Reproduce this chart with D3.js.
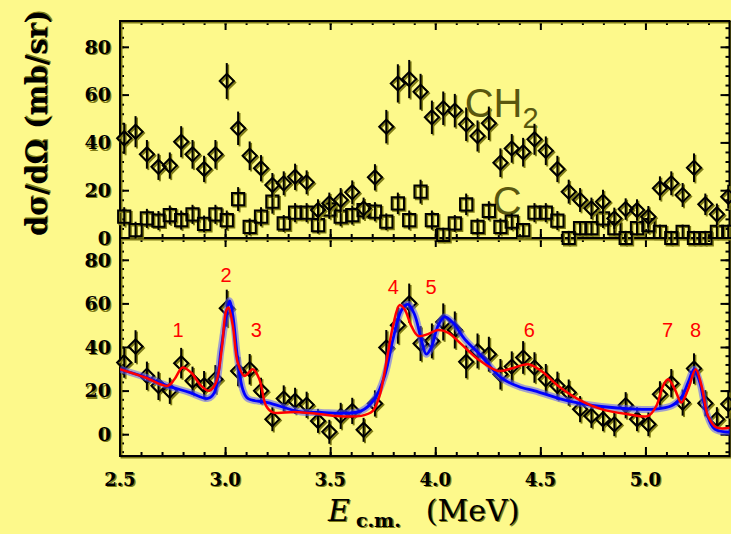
<!DOCTYPE html>
<html>
<head>
<meta charset="utf-8">
<script src="https://cdn.jsdelivr.net/npm/d3@7"></script>
<style>
body { margin:0; background:#fdf98b; }
svg { display:block; }
</style>
</head>
<body>
<script>
// energy bins (MeV, c.m.)
var energy = [2.520,2.574,2.628,2.683,2.737,2.791,2.845,2.900,2.954,3.008,3.062,3.117,3.171,3.225,3.279,3.333,3.388,3.442,
              3.496,3.550,3.605,3.659,3.713,3.767,3.822,3.876,3.930,3.984,4.038,4.093,4.147,4.201,4.255,4.310,4.364,4.418,
              4.472,4.526,4.581,4.635,4.689,4.743,4.798,4.852,4.906,4.960,5.014,5.069,5.123,5.177,5.231,5.285,5.340,5.394];

// top panel: CH2 target (diamonds) and C target (squares)
var ch2 = [41.7,44.5,35,29.8,30.3,40.3,35,28.9,35,65.7,45.9,34.4,29.2,22.2,22.9,25.6,23.3,11.7,
           14.5,15.9,19.1,12.4,25.4,46.6,64.7,66.5,61.2,50.5,54.3,53.3,47.6,42.7,48,31.5,37.5,35.9,
           41.3,36.5,28.9,19.4,15.9,12.4,15.2,8.2,12.1,11.7,8.9,20.8,22.9,18,29.4,14.1,9.9,17.3];
var ch2Err = [6.5,6.5,6,5.5,5.5,6.5,6,5.5,6,7.5,7,6,5.5,5,5,5.5,5,4.5,
              4.5,5,5,4.5,5.5,7,8,8,7.5,7,7,7,7,6.5,7,6,6,6,
              6.5,6,5.5,5,5,4.5,5,4.5,4.5,4.5,4.5,5,5,5,6,4.5,4.5,5];
var carbon = [8.9,3.3,8.2,7.3,9.6,7.5,9.9,5.9,9.9,7.5,16.3,4.7,8.9,15.2,6.1,10.6,10.6,5.4,
              12,8.9,9.6,11.7,11,6.8,14.5,7.5,19.4,7.5,1.3,6.1,14.1,4.7,11.4,4.7,6.8,3.3,
              10.6,10.6,7.3,0,4.1,4.1,8.2,4.1,0,4.1,5.4,2.6,0,2.6,0,0,2.6,2.6];
var carbonErr = [4,3.5,4,4,4,4,4,3.5,4,4,5,3.5,4,5,3.5,4,4,3.5,
                 4,4,4,4,4,3.5,4.5,4,5,4,3,3.5,4.5,3.5,4,3.5,3.5,3,
                 4,4,4,3,3,3,4,3,3,3,3.5,3,3,3,3,3,3,3];

// bottom panel: net cross section
var net = [32.9,40.2,26.8,22.2,19.9,32.6,24.5,22.5,25.2,57.8,29,29.8,19.9,6.9,16.4,15.3,13.5,6.1,
           1.1,8.4,10.7,2,14.1,39.8,50,60.1,41.6,42.8,51.5,47.8,33.2,38.2,36.7,27.5,31,35.2,
           30.6,25.2,22.2,19.1,11.5,8.4,6.9,4.6,13.3,6.9,4.6,18.3,23.4,14.5,30.1,14.2,6.9,13.8];
var netErr = [7,7.5,6.5,6.5,6,7,6.5,6.5,6.5,8.5,7,7,6,5.5,6,6,6,5.5,
              5.5,6,6,5.5,6,8,8.5,9,8,8,8.5,8.5,7.5,8,8,7,7,7.5,
              7,7,6.5,6,6,5.5,5.5,5.5,6,5.5,5.5,6,6.5,6,7,6,5.5,6];

// fit curves (blue, red)
var blueE = [2.50,2.62,2.727,2.83,2.918,2.949,2.981,3.005,3.021,3.037,3.06,3.084,3.108,3.203,3.362,3.457,3.552,3.648,
             3.711,3.759,3.799,3.838,3.87,3.901,3.933,3.957,3.981,4.013,4.044,4.084,4.14,4.219,4.314,4.41,4.473,
             4.632,4.79,4.949,5.044,5.124,5.171,5.203,5.232,5.259,5.29,5.33,5.41];
var blueY = [29.8,26.2,22.2,19.2,16.4,19.1,39,54.3,61.2,54.3,34.4,20.6,16.4,14.5,10.2,10,9.6,10.7,
             16.1,26.7,43.6,56.6,59.6,55,43.6,36.7,39.8,49.7,53.8,51.2,43.6,35.9,25.8,21.4,19.9,
             15.3,12.7,11.5,11.5,13,16.8,23.7,29.8,23.7,10,2.3,1];
var redE = [2.50,2.62,2.727,2.759,2.798,2.838,2.886,2.925,2.957,2.984,3.005,3.016,3.037,3.06,3.092,3.132,3.163,3.195,
            3.227,3.33,3.457,3.52,3.648,3.703,3.735,3.767,3.799,3.83,3.854,3.886,3.918,3.965,4.013,4.06,4.124,
            4.203,4.299,4.362,4.441,4.505,4.584,4.679,4.79,4.917,5.013,5.052,5.084,5.108,5.14,5.171,5.203,5.239,
            5.267,5.298,5.338,5.41];
var redY = [29.8,26,22.2,25.2,30.6,28.3,22.2,19.9,23.7,39,56.6,58.1,49.7,32.9,26.7,29.8,25.2,13,
            10,10.2,9.2,8.4,8.4,10.7,17.6,32.9,49.7,59.2,57.3,49.7,45.1,45.9,47.8,46.6,41.3,
            34.4,29,30.1,32.1,29,22.2,16.1,11.5,9.2,8.4,13,22.2,25.2,20.6,14.5,20.6,29.8,
            22.2,8.4,3.1,3.1];

// resonance labels
var peakNames = ["1","2","3","4","5","6","7","8"];
var peakE = [2.776,3.005,3.148,3.80,3.98,4.448,5.105,5.238];
var peakY = [44.6,69.8,44.6,64.3,64.3,44.6,44.6,44.6];

var xMajor = [2.5,3.0,3.5,4.0,4.5,5.0];
var yMajor = [0,20,40,60,80];

var W = 731, H = 534;
var left = 120, right = 729.5, top1 = 21, mid = 238, bottom = 456;
var bg = "#fdf98b", olive = "#7f7b16";

var x = d3.scaleLinear().domain([2.5,5.4]).range([left,right]);
var yTop = d3.scaleLinear().domain([0,90.8]).range([mid,top1]);
var yBot = d3.scaleLinear().domain([-10,90]).range([bottom,mid]);

var svg = d3.select("body").append("svg").attr("width",W).attr("height",H);
svg.append("rect").attr("width",W).attr("height",H).attr("fill",bg);

svg.append("clipPath").attr("id","clipBot").append("rect")
    .attr("x",left).attr("y",mid).attr("width",right-left).attr("height",bottom-mid);

// text with olive drop shadow
function shadowText(g)
{
    var t1 = g.append("text").attr("fill",olive).attr("transform","translate(1.3,1.3)");
    var t2 = g.append("text").attr("fill","#000");
    return [t1,t2];
}

// labels inside the panels
var lab = svg.append("g").attr("font-family","Liberation Sans, Arial, sans-serif").attr("fill","#59570f");
var chText = lab.append("text").attr("x",x(4.14)).attr("y",yTop(50.6)).attr("font-size",40);
chText.append("tspan").text("CH");
chText.append("tspan").attr("font-size",29).attr("dy",11).text("2");
lab.append("text").attr("x",x(4.274)).attr("y",yTop(9.6)).attr("font-size",40).text("C");

// axes: ticks inward on all four sides of both panels
function xAxes(yPos, dir)
{
    var ax = dir == "up" ? d3.axisBottom : d3.axisTop;
    svg.append("g").attr("transform","translate(0,"+yPos+")")
        .call(ax(x).tickValues(d3.range(2.5,5.41,0.1)).tickSize(-4).tickFormat(""))
        .call(function(g){ g.select(".domain").remove(); g.selectAll("line").attr("stroke-width",2); });
    svg.append("g").attr("transform","translate(0,"+yPos+")")
        .call(ax(x).tickValues(xMajor).tickSize(-9).tickFormat(""))
        .call(function(g){ g.select(".domain").remove(); g.selectAll("line").attr("stroke-width",2); });
}
xAxes(top1,"down");
xAxes(mid,"up");
xAxes(mid,"down");
xAxes(bottom,"up");

function yAxes(y, lo)
{
    [[d3.axisLeft,left],[d3.axisRight,right]].forEach(function(a){
        svg.append("g").attr("transform","translate("+a[1]+",0)")
            .call(a[0](y).tickValues(d3.range(lo,90,4)).tickSize(-4).tickFormat(""))
            .call(function(g){ g.select(".domain").remove(); g.selectAll("line").attr("stroke-width",2); });
        svg.append("g").attr("transform","translate("+a[1]+",0)")
            .call(a[0](y).tickValues(yMajor).tickSize(-9).tickFormat(""))
            .call(function(g){ g.select(".domain").remove(); g.selectAll("line").attr("stroke-width",2); });
    });
    // tick labels
    var lg = svg.append("g").attr("font-family","DejaVu Serif, serif").attr("font-weight","bold")
        .attr("font-size",19).attr("text-anchor","end");
    yMajor.forEach(function(v){
        shadowText(lg).forEach(function(t){
            t.attr("x",left-9).attr("y",y(v)).attr("dy","0.36em").text(v);
        });
    });
}
yAxes(yTop,0);
yAxes(yBot,-8);

var xl = svg.append("g").attr("font-family","DejaVu Serif, serif").attr("font-weight","bold")
    .attr("font-size",18).attr("text-anchor","middle");
xMajor.forEach(function(v){
    shadowText(xl).forEach(function(t){
        t.attr("x",x(v)).attr("y",bottom+30).text(d3.format(".1f")(v));
    });
});

// frames
[[olive,1.5],["#000",0]].forEach(function(s){
    var fg = svg.append("g").attr("transform","translate("+s[1]+","+s[1]+")")
        .attr("fill","none").attr("stroke",s[0]).attr("stroke-width",2);
    fg.append("rect").attr("x",left).attr("y",top1).attr("width",right-left).attr("height",bottom-top1);
    fg.append("line").attr("x1",left).attr("x2",right).attr("y1",mid).attr("y2",mid);
});

// data points with error bars
function drawSeries(xs, ys, errs, y, kind)
{
    var pts = xs.map(function(e,i){
        return {x:x(e), y:y(ys[i]), lo:y(ys[i]-errs[i]), hi:y(ys[i]+errs[i])};
    });
    var sym = kind == "diamond" ? d3.symbol(d3.symbolSquare).size(100) : d3.symbol(d3.symbolSquare).size(150);
    [[olive,1.4],["#000",0]].forEach(function(s){
        var g = svg.append("g").attr("transform","translate("+s[1]+","+s[1]+")");
        g.selectAll("line").data(pts).enter().append("line")
            .attr("x1",function(d){ return d.x; }).attr("x2",function(d){ return d.x; })
            .attr("y1",function(d){ return d.lo; }).attr("y2",function(d){ return d.hi; })
            .attr("stroke",s[0]).attr("stroke-width",2);
        g.selectAll("path").data(pts).enter().append("path")
            .attr("d",sym)
            .attr("transform",function(d){ return "translate("+d.x+","+d.y+")"+(kind=="diamond" ? " rotate(45)" : ""); })
            .attr("fill","none").attr("stroke",s[0]).attr("stroke-width",2);
    });
}
drawSeries(energy, carbon, carbonErr, yTop, "square");
drawSeries(energy, ch2, ch2Err, yTop, "diamond");
drawSeries(energy, net, netErr, yBot, "diamond");

// fit curves
var line = d3.line().curve(d3.curveCatmullRom.alpha(0.5))
    .x(function(d){ return x(d[0]); }).y(function(d){ return yBot(d[1]); });
var cg = svg.append("g").attr("clip-path","url(#clipBot)").attr("fill","none");
var bluePts = blueE.map(function(e,i){ return [e, blueY[i]]; });
var redPts = redE.map(function(e,i){ return [e, redY[i]]; });
cg.append("path").attr("d",line(bluePts)).attr("stroke","#5a5aff").attr("stroke-width",7).attr("opacity",0.55);
cg.append("path").attr("d",line(bluePts)).attr("stroke","#0000ff").attr("stroke-width",2.8);
cg.append("path").attr("d",line(redPts)).attr("stroke","#ff0000").attr("stroke-width",2.5);

// resonance numbers
svg.append("g").attr("font-family","Liberation Sans, Arial, sans-serif").attr("font-size",20)
    .attr("fill","#ff0000").attr("text-anchor","middle")
    .selectAll("text").data(peakNames).enter().append("text")
    .attr("x",function(d,i){ return x(peakE[i]); })
    .attr("y",function(d,i){ return yBot(peakY[i]); })
    .text(function(d){ return d; });

// axis titles
var yt = svg.append("g").attr("transform","translate(47,123) rotate(-90)")
    .attr("font-family","DejaVu Serif, serif").attr("font-weight","bold").attr("font-size",29)
    .attr("text-anchor","middle");
shadowText(yt).forEach(function(t){
    t.attr("textLength",226).attr("lengthAdjust","spacingAndGlyphs").text("d\u03c3/d\u03a9 (mb/sr)");
});

var xt = svg.append("g").attr("font-family","DejaVu Serif, serif").attr("font-size",30);
shadowText(xt).forEach(function(t){
    t.attr("x",328).attr("y",521);
    t.append("tspan").attr("font-style","italic").text("E");
    t.append("tspan").attr("font-size",19).attr("font-weight","bold").attr("dx",6).attr("dy",6).text("c.m.");
    t.append("tspan").attr("dx",25).attr("dy",-6).text("(MeV)");
});
</script>
</body>
</html>
